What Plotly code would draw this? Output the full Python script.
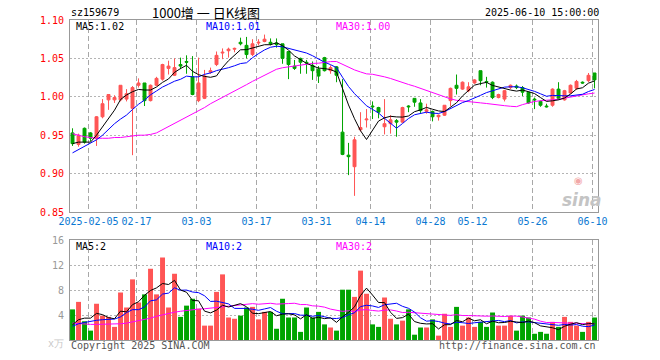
import plotly.graph_objects as go

# ---------------- data ----------------
opens = [0.953, 0.938, 0.959, 0.953, 0.946, 0.974, 0.996, 0.996, 0.996, 0.997,
         0.985, 1.015, 1.018, 0.995, 1.015, 1.023, 1.037, 1.028, 1.042, 1.046,
         1.026, 0.995, 0.998, 1.032, 1.042, 1.057, 1.060, 1.062, 1.071, 1.067,
         1.055, 1.070, 1.072, 1.071, 1.070, 1.069, 1.059, 1.040, 1.050, 1.045,
         1.041, 1.036, 1.051, 1.034, 1.039, 0.954, 0.924, 0.909, 0.957, 0.970,
         0.988, 0.986, 0.961, 0.965, 0.969, 0.967, 0.988, 0.998, 0.992, 0.981,
         0.981, 0.974, 0.976, 0.995, 1.015, 1.010, 1.008, 1.018, 1.034, 1.020,
         1.019, 0.999, 0.997, 1.012, 1.014, 1.012, 1.006, 0.997, 0.994, 0.988,
         0.989, 1.010, 0.996, 1.005, 1.011, 1.019, 1.021, 1.031]
highs = [0.959, 0.952, 0.960, 0.954, 0.975, 0.997, 1.003, 1.002, 1.015, 1.010,
         1.014, 1.024, 1.018, 1.016, 1.026, 1.043, 1.047, 1.050, 1.051, 1.054,
         1.053, 1.051, 1.035, 1.038, 1.059, 1.063, 1.064, 1.064, 1.077, 1.078,
         1.075, 1.075, 1.081, 1.076, 1.076, 1.069, 1.059, 1.048, 1.051, 1.048,
         1.046, 1.040, 1.052, 1.041, 1.040, 1.023, 0.940, 0.948, 0.980, 0.984,
         0.994, 0.987, 0.997, 0.976, 0.971, 0.987, 0.989, 0.998, 0.997, 0.991,
         0.982, 0.977, 0.989, 1.012, 1.029, 1.020, 1.019, 1.023, 1.034, 1.026,
         1.020, 1.004, 1.009, 1.016, 1.016, 1.014, 1.007, 0.999, 0.995, 0.991,
         1.011, 1.019, 1.009, 1.016, 1.022, 1.020, 1.031, 1.031]
lows = [0.936, 0.935, 0.939, 0.942, 0.936, 0.972, 0.983, 0.992, 0.994, 0.994,
        0.924, 1.012, 0.988, 0.994, 1.014, 1.021, 1.029, 1.027, 1.036, 1.030,
        1.002, 0.993, 0.997, 1.030, 1.040, 1.049, 1.051, 1.058, 1.067, 1.050,
        1.053, 1.067, 1.071, 1.067, 1.064, 1.043, 1.023, 1.035, 1.030, 1.030,
        1.022, 1.018, 1.033, 1.030, 1.019, 0.924, 0.898, 0.871, 0.955, 0.960,
        0.971, 0.972, 0.951, 0.952, 0.948, 0.966, 0.980, 0.987, 0.979, 0.978,
        0.968, 0.969, 0.975, 0.988, 1.003, 1.009, 1.006, 1.017, 1.015, 1.012,
        0.997, 0.998, 0.994, 1.010, 1.010, 1.001, 0.991, 0.984, 0.987, 0.986,
        0.987, 0.996, 0.995, 1.004, 1.009, 1.017, 1.019, 1.011]
closes = [0.939, 0.950, 0.941, 0.946, 0.974, 0.991, 1.003, 0.999, 1.015, 1.004,
          1.012, 1.018, 0.995, 1.015, 1.024, 1.042, 1.040, 1.038, 1.040, 1.045,
          1.003, 1.018, 1.027, 1.034, 1.054, 1.058, 1.062, 1.063, 1.069, 1.055,
          1.069, 1.071, 1.075, 1.069, 1.068, 1.050, 1.042, 1.037, 1.045, 1.044,
          1.034, 1.027, 1.034, 1.038, 1.028, 0.925, 0.922, 0.944, 0.960, 0.971,
          0.987, 0.980, 0.965, 0.970, 0.967, 0.986, 0.987, 0.993, 0.982, 0.983,
          0.974, 0.976, 0.989, 1.011, 1.011, 1.019, 1.013, 1.022, 1.021, 1.019,
          0.999, 1.003, 1.008, 1.015, 1.012, 1.006, 0.992, 0.996, 0.989, 0.987,
          1.010, 0.998, 1.008, 1.015, 1.020, 1.018, 1.028, 1.022]
volumes = [4.9, 6.1, 3.0, 1.5, 5.8, 3.9, 3.7, 2.1, 7.6, 5.2,
           9.7, 6.0, 7.3, 11.4, 7.3, 13.2, 5.2, 10.6, 3.7, 5.5,
           6.6, 5.0, 2.3, 2.3, 7.7, 10.5, 3.6, 3.4, 3.9, 5.2,
           5.3, 3.3, 4.5, 4.5, 1.8, 6.6, 3.6, 3.6, 1.3, 5.2,
           3.6, 4.5, 2.5, 2.0, 1.5, 8.05, 8.05, 6.9, 11.1, 7.4,
           2.5, 2.1, 6.8, 3.4, 2.5, 3.1, 4.9, 0.85, 2.0, 2.0,
           3.3, 0.7, 4.2, 2.1, 5.3, 2.3, 3.6, 2.1, 2.9, 2.1,
           4.4, 2.3, 2.3, 3.9, 1.5, 3.9, 3.6, 1.0, 1.3, 1.0,
           2.9, 2.1, 3.7, 2.9, 2.3, 1.3, 2.9, 3.6]

# moving-average values before enough history is on screen
ma5_head = [0.939, 0.941, 0.941, 0.941]
ma10_head = [0.927, 0.931, 0.935, 0.939, 0.944, 0.950, 0.958, 0.965, 0.971]
ma30_head = [0.952, 0.950, 0.948, 0.947, 0.946, 0.946, 0.946, 0.947, 0.947, 0.948,
             0.949, 0.950, 0.950, 0.951, 0.953, 0.957, 0.961, 0.966, 0.970, 0.974,
             0.978, 0.982, 0.986, 0.991, 0.995, 0.999, 1.003, 1.008, 1.012]
vma5_head = [2.45, 3.25, 3.5, 3.5]
vma10_head = [2.2, 2.6, 2.8, 3.0, 3.15, 3.25, 3.35, 3.35, 3.7]
vma30_head = [2.7, 2.6, 2.55, 2.5, 2.5, 2.5, 2.5, 2.55, 2.6, 2.7,
              2.9, 3.1, 3.2, 3.5, 3.8, 4.05, 4.25, 4.45, 4.6, 4.75,
              4.85, 4.95, 5.0, 5.1, 5.25, 5.35, 5.45, 5.55, 5.65]

tick_idx = [3, 11, 21, 31, 41, 50, 60, 67, 77, 87]
tick_labels = ["2025-02-05", "02-17", "03-03", "03-17", "03-31",
               "04-14", "04-28", "05-12", "05-26", "06-10"]
price_ticks = [0.85, 0.90, 0.95, 1.00, 1.05, 1.10]
vol_ticks = [4, 8, 12, 16]

code = "sz159679"
title = "1000增 一 日K线图"
stamp = "2025-06-10 15:00:00"

# ---------------- helpers ----------------
def moving_avg(vals, n, head):
    out = list(head)
    for i in range(len(head), len(vals)):
        out.append(sum(vals[i - n + 1:i + 1]) / n)
    return out

n = len(closes)
xs = list(range(n))
ma5 = moving_avg(closes, 5, ma5_head)
ma10 = moving_avg(closes, 10, ma10_head)
ma30 = moving_avg(closes, 30, ma30_head)
vma5 = moving_avg(volumes, 5, vma5_head)
vma10 = moving_avg(volumes, 10, vma10_head)
vma30 = moving_avg(volumes, 30, vma30_head)

RED = "#ff5555"
GREEN = "#00a400"
vol_colors = [RED if c >= o else GREEN for o, c in zip(opens, closes)]

MONO = "DejaVu Sans Mono"
L, R, T, B = 70, 598, 20, 340


def pxx(x):
    return (x - L) / (R - L)


def pyy(y):
    return (B - y) / (B - T)


fig = go.Figure()
fig.add_trace(go.Candlestick(
    x=xs, open=opens, high=highs, low=lows, close=closes,
    increasing=dict(line=dict(color=RED, width=1), fillcolor=RED),
    decreasing=dict(line=dict(color=GREEN, width=1), fillcolor=GREEN),
    whiskerwidth=0, xaxis="x", yaxis="y", hoverinfo="skip"))
for vals, col in [(ma30, "#ff00ff"), (ma10, "#0000ff"), (ma5, "#000000")]:
    fig.add_trace(go.Scatter(x=xs, y=vals, mode="lines", line=dict(color=col, width=1),
                             xaxis="x", yaxis="y", hoverinfo="skip"))

fig.add_trace(go.Bar(x=xs, y=volumes, marker=dict(color=vol_colors, line=dict(width=0)),
                     width=0.82, xaxis="x2", yaxis="y2", hoverinfo="skip"))
for vals, col in [(vma30, "#ff00ff"), (vma10, "#0000ff"), (vma5, "#000000")]:
    fig.add_trace(go.Scatter(x=xs, y=vals, mode="lines", line=dict(color=col, width=1),
                             xaxis="x2", yaxis="y2", hoverinfo="skip"))

grid_x = [i - 1 / 3 for i in tick_idx]
xrange = [-0.42, n - 0.42]

common_x = dict(range=xrange, tickmode="array", tickvals=grid_x, showgrid=True,
                gridcolor="#a8a8a8", griddash="5px,3px", gridwidth=1, zeroline=False,
                showline=True, mirror=True, linecolor="#999999", linewidth=1, ticks="")

fig.update_layout(
    width=660, height=360,
    margin=dict(l=L, r=660 - R, t=T, b=360 - B),
    paper_bgcolor="white", plot_bgcolor="white",
    showlegend=False, boxgap=0.3,
    xaxis=dict(domain=[0, 1], anchor="y", ticktext=tick_labels,
               tickfont=dict(family=MONO, size=10, color="#0a78d2"),
               rangeslider=dict(visible=False), **common_x),
    yaxis=dict(domain=[pyy(212), 1], range=[0.85, 1.10], tickmode="array",
               tickvals=price_ticks, ticktext=[f"{v:.2f}" for v in price_ticks],
               tickfont=dict(family=MONO, size=10, color="#ff0000"),
               showgrid=True, gridcolor="#b4b4b4", griddash="2px,2px", gridwidth=1,
               zeroline=False, showline=True, mirror=True, linecolor="#999999",
               linewidth=1, ticks="", ticklabelstandoff=3),
    xaxis2=dict(domain=[0, 1], anchor="y2", matches="x", showticklabels=False,
                ticktext=tick_labels, **common_x),
    yaxis2=dict(domain=[0, pyy(240)], range=[0, 16], tickmode="array",
                tickvals=vol_ticks, ticktext=[str(v) for v in vol_ticks],
                tickfont=dict(family=MONO, size=10, color="#999999"),
                showgrid=True, gridcolor="#b4b4b4", griddash="2px,2px", gridwidth=1,
                zeroline=False, showline=True, mirror=True, linecolor="#999999",
                linewidth=1, ticks="", ticklabelstandoff=3),
)


def ann(text, x, y, color="#000000", size=10, family=MONO, xanchor="left", **kw):
    fig.add_annotation(text=text, x=pxx(x), y=pyy(y), xref="paper", yref="paper",
                       xanchor=xanchor, yanchor="middle", showarrow=False,
                       font=dict(family=family, size=size, color=color), **kw)


ann(code, 69, 13)
ann(title, 150, 12, size=13, family="Noto Sans CJK SC")
ann(stamp, 601, 13, xanchor="right")

ann(f"MA5:{ma5[-1]:.2f}", 74, 26.5)
ann(f"MA10:{ma10[-1]:.2f}", 204, 26.5, color="#0000ff")
ann(f"MA30:{ma30[-1]:.2f}", 334, 26.5, color="#ff00ff")

ann(f"MA5:{int(vma5[-1])}", 74, 246.5)
ann(f"MA10:{int(vma10[-1])}", 204, 246.5, color="#0000ff")
ann(f"MA30:{int(vma30[-1])}", 334, 246.5, color="#ff00ff")

ann("x万", 66, 343, color="#c8c8c8", xanchor="right")
ann("Copyright 2025 SINA.COM", 69, 345.5, color="#555555")
ann("http://finance.sina.com.cn", 598, 345.5, color="#555555", xanchor="right")

ann("<b><i>sina</i></b>", 582, 200, color="#c4c4c4", size=17,
    family="DejaVu Sans", xanchor="center")
ann("◉", 578, 180, color="#f2a8a8", size=10, family="DejaVu Sans", xanchor="center")

fig.write_html("out.html", config={"displayModeBar": False},
               post_script="document.body.style.margin='0px';")
